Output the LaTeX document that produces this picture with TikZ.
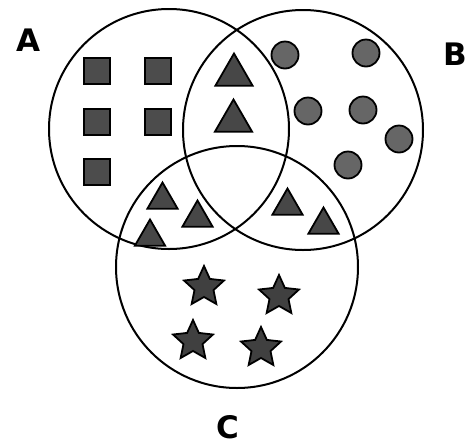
\documentclass[tikz,border=0pt]{standalone}
\usepackage{fontspec}
\setmainfont{DejaVu Sans}
\usetikzlibrary{shapes.geometric}
\tikzset{
  setcircle/.style={draw=black, line width=2pt},
  sq/.style={draw=black, line width=1.8pt, fill=black!70, minimum size=26pt, inner sep=0pt, rectangle},
  dot/.style={draw=black, line width=1.8pt, fill=black!60, circle, minimum size=27pt, inner sep=0pt},
  tribig/.style={draw=black, line width=1.8pt, fill=black!72, regular polygon, regular polygon sides=3, minimum size=43pt, inner sep=0pt},
  trismall/.style={draw=black, line width=1.8pt, fill=black!72, regular polygon, regular polygon sides=3, minimum size=35pt, inner sep=0pt},
  starshape/.style={draw=black, line width=1.8pt, fill=black!75, star, star points=5, star point ratio=2.1, minimum size=42pt, inner sep=0pt},
  setlabel/.style={font=\fontsize{31}{31}\selectfont\bfseries, inner sep=0pt}
}
\begin{document}
\begin{tikzpicture}[x=1pt,y=-1pt]
\useasboundingbox[fill=white] (0,0) rectangle (467,448);
% set circles
\node[setcircle, circle, minimum size=240pt, inner sep=0pt] (A) at (169,129) {};
\node[setcircle, circle, minimum size=240pt, inner sep=0pt] (B) at (303,130) {};
\node[setcircle, circle, minimum size=242pt, inner sep=0pt] (C) at (237,267) {};
% labels
\node[setlabel] (lA) at (28,40) {A};
\node[setlabel] (lB) at (455,54) {B};
\node[setlabel] (lC) at (228,427) {C};
% squares in A
\node[sq] (s1) at (97,71) {};
\node[sq] (s2) at (158,71) {};
\node[sq] (s3) at (97,122) {};
\node[sq] (s4) at (158,122) {};
\node[sq] (s5) at (97,172) {};
% circles in B
\node[dot] (d1) at (285,55) {};
\node[dot] (d2) at (366,53) {};
\node[dot] (d3) at (308,111) {};
\node[dot] (d4) at (363,110) {};
\node[dot] (d5) at (399,139) {};
\node[dot] (d6) at (348,165) {};
% triangles in A and B
\node[tribig] (t1) at (234,75) {};
\node[tribig] (t2) at (233.5,121) {};
% triangles in A and C
\node[trismall] (t3) at (162.5,200) {};
\node[trismall] (t4) at (197.5,218) {};
\node[trismall] (t5) at (150,237) {};
% triangles in B and C
\node[trismall] (t6) at (287.5,206) {};
\node[trismall] (t7) at (323.5,225) {};
% stars in C
\node[starshape] (st1) at (204,287) {};
\node[starshape] (st2) at (279,296) {};
\node[starshape] (st3) at (193,341) {};
\node[starshape] (st4) at (261,348) {};
\end{tikzpicture}
\end{document}
